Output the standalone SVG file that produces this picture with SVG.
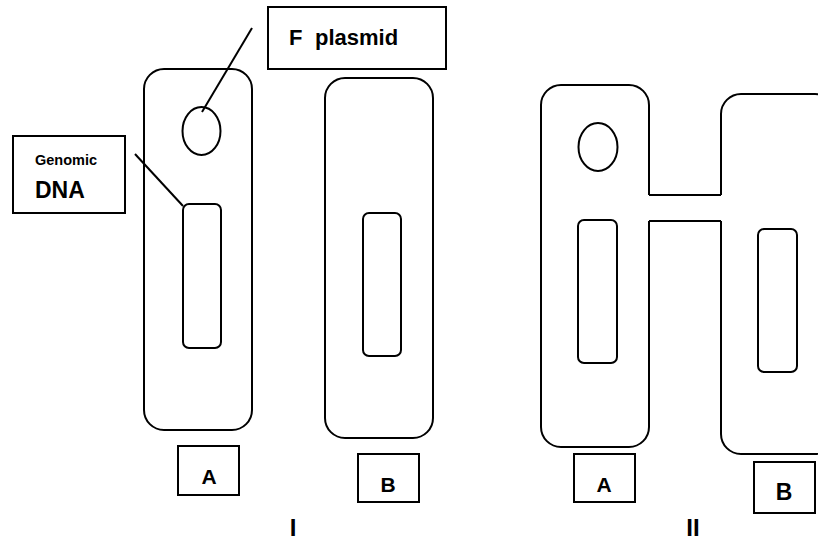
<svg xmlns="http://www.w3.org/2000/svg" width="818" height="542" viewBox="0 0 818 542">
<style>
.s{fill:none;stroke:#000;stroke-width:2}
.w{fill:#fff;stroke:#000;stroke-width:2}
.t{font-family:"Liberation Sans",Arial,sans-serif;font-weight:bold;fill:#000}
</style>
<rect width="818" height="542" fill="#fff"/>
<g id="cellA-I">
<rect class="s" x="144" y="69" width="108" height="361" rx="20"/>
<ellipse class="s" cx="201.5" cy="131" rx="19" ry="24"/>
<rect class="s" x="183" y="204" width="38" height="144" rx="6"/>
</g>
<g id="cellB-I">
<rect class="s" x="325" y="78" width="108" height="360" rx="20"/>
<rect class="s" x="363" y="213" width="38" height="143" rx="6"/>
</g>
<g id="cellA-II">
<path class="s" d="M649 195 L649 105 A20 20 0 0 0 629 85 L561 85 A20 20 0 0 0 541 105 L541 427 A20 20 0 0 0 561 447 L629 447 A20 20 0 0 0 649 427 L649 221"/>
<ellipse class="s" cx="598" cy="147" rx="19.5" ry="24"/>
<rect class="s" x="578" y="220" width="39" height="143" rx="6"/>
</g>
<g id="cellB-II">
<path class="s" d="M721 195 L721 114 A20 20 0 0 1 741 94 L815 94 A20 20 0 0 1 835 114 L835 434 A20 20 0 0 1 815 454 L741 454 A20 20 0 0 1 721 434 L721 221"/>
<rect class="s" x="758" y="229" width="39" height="143" rx="6"/>
</g>
<g id="connectors">
<path class="s" d="M649 195 H721 M649 221 H721"/>
<line class="s" x1="252" y1="28" x2="202" y2="112"/>
<line class="s" x1="135" y1="154" x2="183" y2="206"/>
</g>
<g id="label-fplasmid">
<rect class="w" x="268" y="7" width="178" height="62"/>
<text class="t" x="289" y="45" font-size="22">F<tspan x="315">plasmid</tspan></text>
</g>
<g id="label-genomic">
<rect class="w" x="13" y="136" width="112" height="77"/>
<text class="t" x="35" y="165" font-size="14.5">Genomic</text>
<text class="t" x="35" y="198" font-size="23">DNA</text>
</g>
<g id="label-A-I">
<rect class="w" x="178" y="446" width="61" height="49"/>
<text class="t" x="209" y="484" font-size="21" text-anchor="middle">A</text>
</g>
<g id="label-B-I">
<rect class="w" x="358" y="454" width="61" height="48"/>
<text class="t" x="388" y="492" font-size="21" text-anchor="middle">B</text>
</g>
<g id="label-A-II">
<rect class="w" x="574" y="454" width="61" height="48"/>
<text class="t" x="604" y="492" font-size="21" text-anchor="middle">A</text>
</g>
<g id="label-B-II">
<rect class="w" x="754" y="462" width="61" height="51"/>
<text class="t" x="784" y="500" font-size="23" text-anchor="middle">B</text>
</g>
<text class="t" x="293" y="536" font-size="24" text-anchor="middle">I</text>
<text class="t" x="693" y="536" font-size="24" text-anchor="middle">II</text>
</svg>
